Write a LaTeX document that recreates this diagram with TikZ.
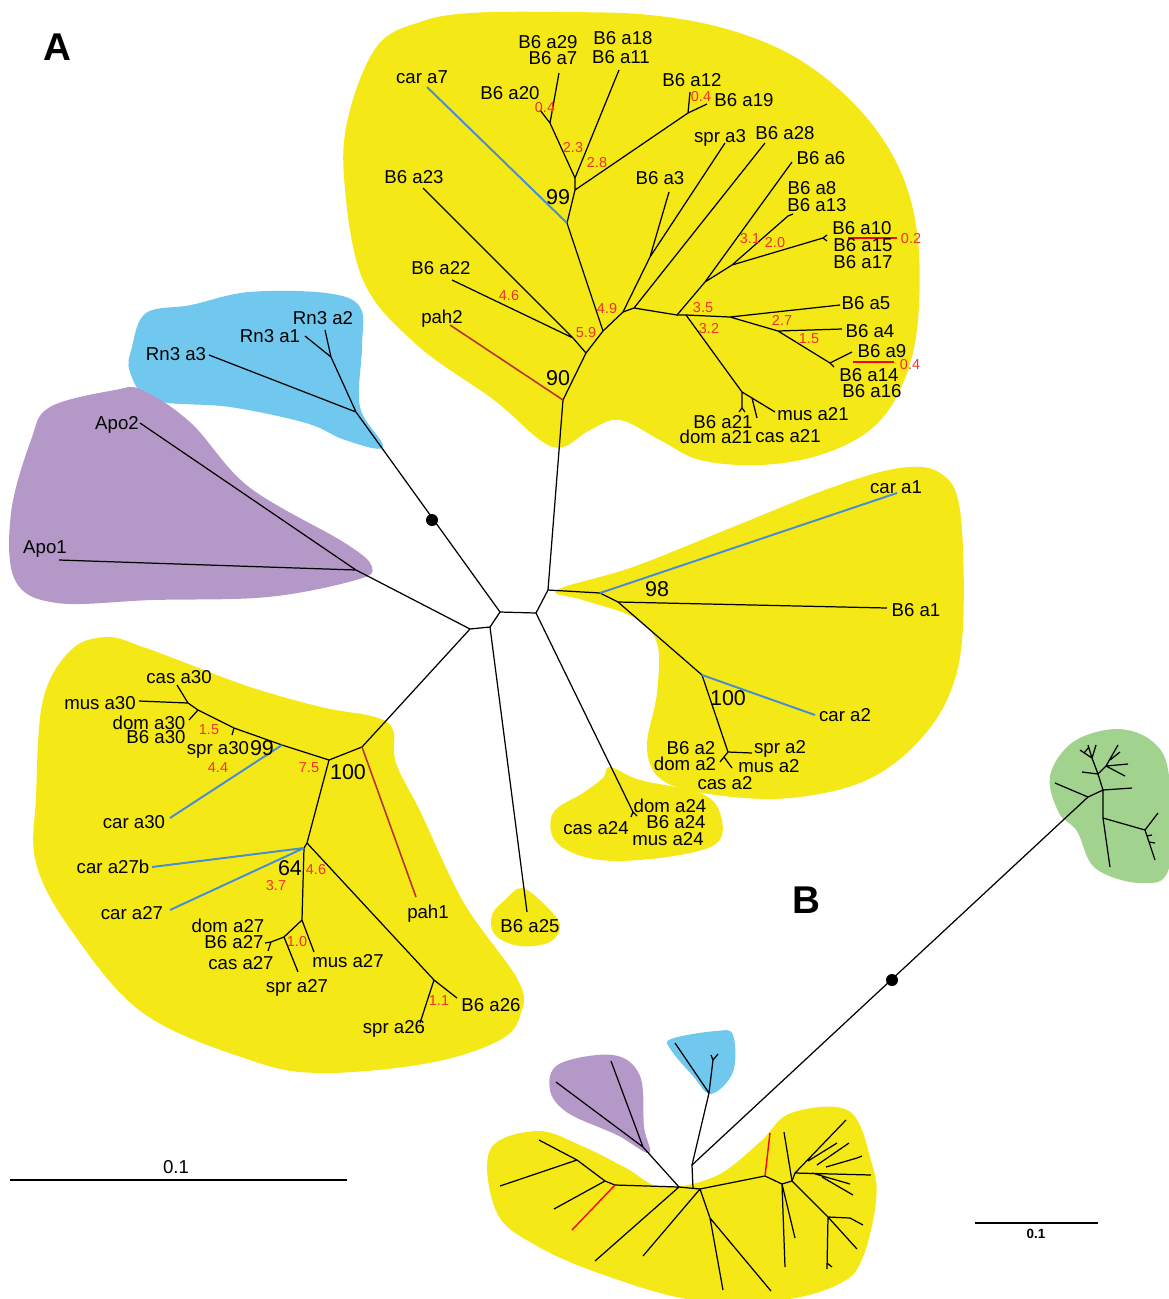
\documentclass[tikz,border=0pt]{standalone}
\usepackage{fontspec}
\setmainfont{Liberation Sans}
\definecolor{blobyel}{RGB}{244,232,22}
\definecolor{blobsky}{RGB}{112,200,238}
\definecolor{bloblil}{RGB}{180,153,200}
\definecolor{blobgrn}{RGB}{161,210,142}
\definecolor{carblue}{RGB}{70,140,215}
\definecolor{pahred}{RGB}{185,50,50}
\definecolor{valred}{RGB}{240,50,40}
\tikzset{
  br/.style={line width=0.35pt},
  carbr/.style={line width=0.55pt, draw=carblue},
  pahbr/.style={line width=0.45pt, draw=pahred},
  lf/.style={font=\fontsize{5.3}{6}\selectfont, inner sep=0pt, text height=3.8pt, text depth=0pt},
  rv/.style={font=\fontsize{4.1}{5}\selectfont, text=valred, inner sep=0pt, text height=2.9pt, text depth=0pt},
  bs/.style={font=\fontsize{6.1}{7}\selectfont, inner sep=0pt, text height=4.4pt, text depth=0pt},
  panel/.style={font=\fontsize{11}{13}\selectfont\bfseries, inner sep=0pt}
}
\begin{document}
\begin{tikzpicture}[x=0.01cm,y=-0.01cm]
\useasboundingbox (0,0) rectangle (1169,1299);
% clade backgrounds
\fill[blobyel] plot[smooth cycle, tension=0.6] coordinates{(344,177) (350,110) (378,45) (420,22) (470,13) (560,12) (650,15) (730,30) (800,60) (860,110) (900,170) (918,240) (917,330) (900,390) (870,430) (820,455) (760,465) (700,460) (660,440) (620,420) (590,430) (563,447) (540,440) (494,400) (417,345) (363,280)};
\fill[blobsky] plot[smooth cycle, tension=0.6] coordinates{(132,347) (146,313) (191,305) (249,292) (326,293) (360,307) (362,347) (360,407) (383,447) (345,440) (306,423) (230,407) (153,400) (130,372)};
\fill[bloblil] plot[smooth cycle, tension=0.6] coordinates{(31,440) (50,407) (115,390) (142,390) (191,423) (249,487) (345,543) (372,567) (356,580) (268,597) (153,600) (57,603) (15,580) (11,513)};
\fill[blobyel] plot[smooth cycle, tension=0.6] coordinates{(557,590) (633,567) (733,527) (833,487) (900,468) (940,473) (960,510) (963,627) (950,693) (917,743) (867,780) (800,797) (733,797) (667,783) (647,750) (657,693) (657,643) (633,617) (583,600)};
\fill[blobyel] plot[smooth cycle, tension=0.6] coordinates{(610,767) (640,780) (700,793) (720,813) (717,843) (667,857) (600,860) (557,843) (553,813) (583,793) (603,778)};
\fill[blobyel] plot[smooth cycle, tension=0.6] coordinates{(522,888) (545,905) (560,925) (550,942) (520,946) (495,935) (492,915) (505,900)};
\fill[blobyel] plot[smooth cycle, tension=0.6] coordinates{(43,700) (71,650) (107,637) (143,647) (186,663) (250,687) (321,707) (375,717) (393,730) (396,763) (421,813) (464,903) (518,980) (521,1013) (500,1040) (429,1063) (321,1073) (250,1060) (143,1013) (71,930) (36,863) (36,797)};
\fill[blobgrn] plot[smooth cycle, tension=0.6] coordinates{(1050,776) (1073,742) (1117,729) (1153,742) (1169,776) (1169,868) (1140,883) (1095,868) (1077,831) (1059,813)};
\fill[blobsky] plot[smooth cycle, tension=0.6] coordinates{(671,1039) (716,1031) (733,1035) (733,1072) (711,1094) (693,1076) (671,1050)};
\fill[bloblil] plot[smooth cycle, tension=0.6] coordinates{(550,1090) (559,1064) (613,1055) (640,1076) (644,1127) (649,1153) (617,1135) (568,1113)};
\fill[blobyel] plot[smooth cycle, tension=0.6] coordinates{(490,1150) (537,1131) (582,1146) (626,1168) (662,1187) (716,1176) (760,1142) (791,1113) (849,1111) (872,1164) (876,1201) (863,1257) (841,1283) (782,1300) (693,1300) (604,1275) (537,1246) (497,1213)};

% tree A, centre
\coordinate (cA) at (470,629);
\coordinate (cB) at (490,627);
\coordinate (cC) at (500,612);
\coordinate (cD) at (536,613);
\coordinate (cE) at (548,590);
\draw[br] (cA)--(cB)--(cC)--(cD)--(cE);

% Rn3 and Apo
\coordinate (r1) at (356,412);
\coordinate (r2) at (331,357);
\coordinate (ap) at (356,570);
\coordinate (dotA) at (432,520);
\draw[br] (cC)--(r1)--(r2)--(305,336) (r2)--(325,330) (r1)--(209,355);
\fill (dotA) circle[radius=0.06cm];
\draw[br] (cA)--(ap)--(59,560) (ap)--(140,423);
\node[lf] (rn3a2) at (323,318) {Rn3 a2};
\node[lf] (rn3a1) at (270,336) {Rn3 a1};
\node[lf] (rn3a3) at (176,354) {Rn3 a3};
\node[lf] (apo2) at (117,423) {Apo2};
\node[lf] (apo1) at (45,547) {Apo1};

% top clade
\coordinate (t90) at (563,400);
\coordinate (t1) at (586,353);
\coordinate (t59) at (573,338);
\coordinate (t2) at (603,331);
\coordinate (t99) at (567,223);
\coordinate (t4) at (575,190);
\coordinate (t5) at (575,178);
\coordinate (t5a) at (550,123);
\coordinate (t4a) at (688,113);
\coordinate (t3) at (623,312);
\coordinate (t3a) at (634,308);
\coordinate (t6) at (650,257);
\coordinate (t7) at (677,315);
\coordinate (t7c) at (686,315);
\coordinate (t8) at (705,282);
\coordinate (t9) at (732,265);
\coordinate (t10) at (730,317);
\coordinate (t11) at (778,331);
\coordinate (t12) at (830,363);
\coordinate (t13) at (742,392);
\coordinate (t14) at (752,398);
\draw[br] (cE)--(t90)--(t1)--(t2)--(t3);
\draw[pahbr] (t90)--(450,325);
\draw[br] (t1)--(t59)--(423,188) (t59)--(452,280);
\draw[br] (t2)--(t99)--(t4)--(t5)--(t5a)--(559,73) (t5a)--(540,110) (t5)--(619,70) (t4)--(t4a)--(690,92) (t4a)--(707,104);
\draw[carbr] (t99)--(427,87);
\draw[br] (t3)--(t6)--(669,192) (t6)--(725,143);
\draw[br] (t3)--(t3a)--(765,143) (t3a)--(t7)--(t7c)--(t10)--(840,305) (t10)--(t11)--(842,329) (t11)--(t12)--(852,352) (t12)--(834,367);
\draw[br] (t7)--(t8)--(792,162) (t8)--(t9)--(788,216)--++(5,-2) (t9)--(823,238)--++(4,-3) (823,238)--++(4,3);
\draw[br] (t7c)--(t13)--(742,408)--++(-3,4) (742,408)--++(3,4) (t13)--(t14)--(775,412) (t14)--(757,418);
\draw[red, line width=0.4pt] (848,238)--(897,238) (853,362)--(894,362);
\node[lf] (car7) at (422,77) {car a7};
\node[lf] (b6a29) at (548,42) {B6 a29};
\node[lf] (b6a7) at (553,58) {B6 a7};
\node[lf] (b6a18) at (623,38) {B6 a18};
\node[lf] (b6a11) at (621,57) {B6 a11};
\node[lf] (b6a20) at (510,93) {B6 a20};
\node[lf] (b6a12) at (692,80) {B6 a12};
\node[lf] (b6a19) at (744,100) {B6 a19};
\node[lf] (spr3) at (720,136) {spr a3};
\node[lf] (b6a28) at (785,133) {B6 a28};
\node[lf] (b6a6) at (821,158) {B6 a6};
\node[lf] (b6a3) at (660,178) {B6 a3};
\node[lf] (b6a23) at (414,177) {B6 a23};
\node[lf] (b6a8) at (812,188) {B6 a8};
\node[lf] (b6a13) at (817,205) {B6 a13};
\node[lf] (b6a10) at (862,228) {B6 a10};
\node[lf] (b6a15) at (863,245) {B6 a15};
\node[lf] (b6a17) at (863,262) {B6 a17};
\node[lf] (b6a22) at (441,268) {B6 a22};
\node[lf] (pah2) at (442,317) {pah2};
\node[lf] (b6a5) at (866,303) {B6 a5};
\node[lf] (b6a4) at (870,331) {B6 a4};
\node[lf] (b6a9) at (882,351) {B6 a9};
\node[lf] (b6a14) at (869,375) {B6 a14};
\node[lf] (b6a16) at (872,391) {B6 a16};
\node[lf] (b6a21) at (723,422) {B6 a21};
\node[lf] (dom21) at (716,437) {dom a21};
\node[lf] (cas21) at (788,436) {cas a21};
\node[lf] (mus21) at (813,414) {mus a21};
\node[bs] (bs99t) at (558,197) {99};
\node[bs] (bs90) at (558,378) {90};
\node[rv] (v04a) at (545,107) {0.4};
\node[rv] (v04b) at (701,96) {0.4};
\node[rv] (v23) at (573,147) {2.3};
\node[rv] (v28) at (597,162) {2.8};
\node[rv] (v31) at (750,238) {3.1};
\node[rv] (v20) at (775,242) {2.0};
\node[rv] (v02) at (911,238) {0.2};
\node[rv] (v46t) at (509,295) {4.6};
\node[rv] (v49) at (607,308) {4.9};
\node[rv] (v59) at (586,332) {5.9};
\node[rv] (v35) at (703,307) {3.5};
\node[rv] (v27) at (782,320) {2.7};
\node[rv] (v32) at (709,328) {3.2};
\node[rv] (v15t) at (809,338) {1.5};
\node[rv] (v04c) at (910,364) {0.4};

% right clades
\coordinate (rr1) at (600,593);
\coordinate (rr2) at (618,602);
\coordinate (rr3) at (702,675);
\coordinate (rr4) at (728,752);
\coordinate (rr5) at (724,757);
\coordinate (a24) at (633,812);
\draw[br] (cE)--(rr1)--(rr2)--(887,608) (rr2)--(rr3)--(rr4)--(752,753) (rr4)--(rr5)--++(-4,5) (rr5)--++(8,11);
\draw[carbr] (rr1)--(897,493) (rr3)--(815,715);
\draw[br] (cD)--(a24)--++(-2,5) (a24)--++(4,4);
\draw[br] (cB)--(527,912);
\node[lf] (car1) at (896,487) {car a1};
\node[bs] (bs98) at (657,589) {98};
\node[lf] (b6a1) at (916,610) {B6 a1};
\node[bs] (bs100r) at (728,698) {100};
\node[lf] (car2) at (845,715) {car a2};
\node[lf] (b6a2) at (691,748) {B6 a2};
\node[lf] (spr2) at (780,747) {spr a2};
\node[lf] (dom2) at (685,764) {dom a2};
\node[lf] (mus2) at (769,766) {mus a2};
\node[lf] (cas2) at (725,783) {cas a2};
\node[lf] (dom24) at (670,806) {dom a24};
\node[lf] (b6a24) at (676,822) {B6 a24};
\node[lf] (cas24) at (596,828) {cas a24};
\node[lf] (mus24) at (668,839) {mus a24};
\node[lf] (b6a25) at (530,926) {B6 a25};

% lower left clade
\coordinate (ll0) at (362,747);
\coordinate (ll1) at (329,760);
\coordinate (la) at (282,745);
\coordinate (lb) at (234,728);
\coordinate (lc) at (198,710);
\coordinate (ld) at (188,703);
\coordinate (l64) at (307,843);
\coordinate (l64b) at (304,848);
\coordinate (l3) at (302,920);
\coordinate (l4) at (284,937);
\coordinate (l5) at (271,942);
\coordinate (l6) at (434,980);
\draw[br] (cA)--(ll0)--(ll1)--(la)--(lb)--(lc)--(ld)--(139,701) (ld)--(177,685) (lb)--++(-2,7) (lc)--++(-9,10);
\draw[pahbr] (ll0)--(416,897);
\draw[carbr] (la)--(170,818);
\draw[br] (ll1)--(l64)--(l64b)--(l3)--(314,952) (l3)--(l4)--(298,972) (l4)--(l5)--++(-6,1) (l5)--++(-3,9);
\draw[carbr] (l64b)--(152,867) (l64b)--(170,910);
\draw[br] (l64)--(l6)--(457,998) (l6)--(420,1023);
\node[lf] (cas30) at (179,677) {cas a30};
\node[lf] (mus30) at (100,703) {mus a30};
\node[lf] (dom30) at (149,723) {dom a30};
\node[lf] (b6a30) at (156,737) {B6 a30};
\node[lf] (spr30) at (218,748) {spr a30};
\node[bs] (bs99l) at (262,748) {99};
\node[bs] (bs100l) at (348,772) {100};
\node[lf] (car30) at (134,822) {car a30};
\node[lf] (car27b) at (113,867) {car a27b};
\node[bs] (bs64) at (290,868) {64};
\node[lf] (car27) at (132,913) {car a27};
\node[lf] (dom27) at (228,926) {dom a27};
\node[lf] (b6a27) at (234,942) {B6 a27};
\node[lf] (cas27) at (241,963) {cas a27};
\node[lf] (mus27) at (348,961) {mus a27};
\node[lf] (spr27) at (297,986) {spr a27};
\node[lf] (pah1) at (428,912) {pah1};
\node[lf] (b6a26) at (491,1005) {B6 a26};
\node[lf] (spr26) at (394,1027) {spr a26};
\node[rv] (v15l) at (209,729) {1.5};
\node[rv] (v44) at (218,767) {4.4};
\node[rv] (v75) at (309,767) {7.5};
\node[rv] (v46l) at (316,869) {4.6};
\node[rv] (v37) at (276,885) {3.7};
\node[rv] (v10) at (297,941) {1.0};
\node[rv] (v11) at (439,1000) {1.1};

% scale bar A
\coordinate (sa1) at (10,1180);
\coordinate (sa2) at (347,1180);
\draw[br] (sa1)--(sa2);
\node[lf] (sca) at (176,1167) {0.1};
\node[panel] (pA) at (57,47) {A};
\node[panel] (pB) at (806,900) {B};

% tree B
\coordinate (bR1) at (692,1165);
\coordinate (bS) at (693,1188);
\coordinate (bJ1) at (679,1187);
\coordinate (bJ2) at (700,1189);
\coordinate (gR) at (1088,797);
\coordinate (dotB) at (892,980);
\draw[br] (bS)--(bR1)--(gR) (bJ1)--(bJ2);
\fill (dotB) circle[radius=0.06cm];
\coordinate (bb0) at (709,1093);
\coordinate (bb2) at (713,1060);
\draw[br] (bR1)--(bb0)--(675,1043) (bb0)--(bb2)--(711,1055) (bb2)--(718,1054);
\coordinate (bp0) at (643,1147);
\draw[br] (bJ1)--(bp0)--(556,1082) (bp0)--(611,1061);
\coordinate (by1) at (615,1185);
\coordinate (by2) at (605,1181);
\coordinate (by3) at (577,1160);
\draw[br] (bJ1)--(by1)--(by2)--(by3)--(539,1140) (by3)--(500,1186) (by2)--(554,1209) (bJ1)--(595,1261);
\draw[red, line width=0.4pt] (by1)--(572,1230);
\coordinate (by5) at (710,1218);
\coordinate (by6) at (765,1176);
\coordinate (by7) at (782,1184);
\coordinate (by8) at (792,1181);
\coordinate (by9) at (795,1173);
\coordinate (by14) at (828,1217);
\draw[br] (bJ2)--(643,1256) (bJ2)--(by5)--(723,1290) (by5)--(771,1291);
\draw[br] (bJ2)--(by6)--(by7)--(785,1267) (by7)--(by8)--(784,1132) (by7)--(795,1238);
\draw[red, line width=0.4pt] (by6)--(770,1133);
\draw[br] (by8)--(by9)--(846,1120) (808,1161)--(837,1143) (817,1165)--(849,1143) (826,1167)--(857,1158)--(862,1156) (by9)--(871,1175) (812,1173)--(850,1184) (822,1177)--(853,1195);
\draw[br] (by8)--(by14)--(857,1249) (by14)--(850,1218)--(863,1225) (by14)--(827,1269) (827,1263)--(832,1267);
\coordinate (gA) at (1103,790);
\coordinate (gB) at (1103,818);
\coordinate (gC) at (1145,830);
\coordinate (gD) at (1098,774);
\coordinate (gE) at (1092,758);
\coordinate (gF) at (1106,766);
\draw[br] (gR)--(1055,783) (gR)--(gA)--(1132,788) (gA)--(gB)--(1110,867) (gB)--(gC)--(1158,813) (gC)--(1155,860) (1147,836)--(1152,835) (1149,842)--(1155,843);
\draw[br] (gA)--(gD)--(1082,772) (gD)--(gE)--(1080,750) (gE)--(1088,745) (gE)--(1096,745) (gD)--(gF)--(1118,745) (gF)--(1128,764) (gF)--(1125,776) (1110,760)--(1120,752) (1084,753)--(1089,747);
\coordinate (sb1) at (975,1223);
\coordinate (sb2) at (1098,1223);
\draw[br] (sb1)--(sb2);
\node[font=\fontsize{3.8}{4.5}\selectfont\bfseries, inner sep=0pt] (scb) at (1036,1234) {0.1};
\end{tikzpicture}
\end{document}
